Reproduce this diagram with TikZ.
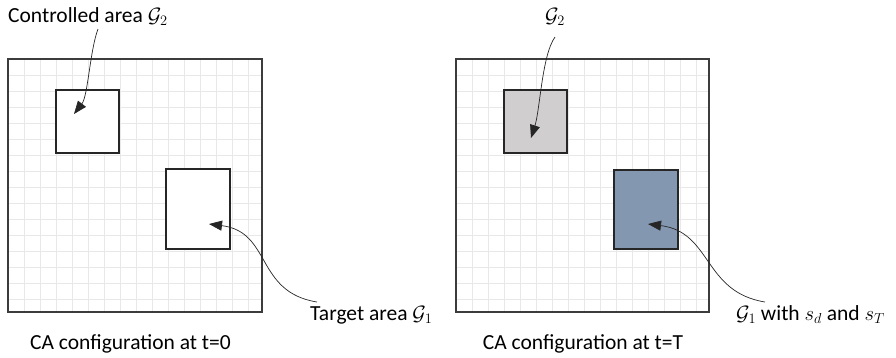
\documentclass[tikz,border=0pt]{standalone}
\usepackage{fontspec}
\setmainfont{Carlito}
\usetikzlibrary{arrows.meta, positioning}
\definecolor{gridgray}{RGB}{232,232,232}
\definecolor{framegray}{RGB}{60,60,60}
\definecolor{reachgray}{RGB}{208,206,206}
\definecolor{targetblue}{RGB}{132,151,176}
\tikzset{
  cagrid/.style={draw=gridgray, line width=0.7pt},
  caframe/.style={draw=framegray, line width=1.4pt, minimum height=253pt, inner sep=0pt},
  area/.style={draw=black!85, line width=1.4pt, fill=white, inner sep=0pt},
  arrow/.style={-{Triangle[length=13pt, width=10pt]}, line width=0.7pt, black!85},
  lbl/.style={font=\fontsize{21.5}{25}\selectfont, inner sep=0pt},
}
\begin{document}
\begin{tikzpicture}[x=1pt, y=1pt]
\useasboundingbox (0,0) rectangle (896,-357);

% --- Configuration at t=0 ---
\begin{scope}[shift={(8,-59)}]
  \draw[cagrid, step=16pt] (0,0) grid (254,-253);
\end{scope}
\node[caframe, minimum width=254pt] (frameA) at (135,-185.5) {};
\node[area, minimum width=63pt, minimum height=63pt] (ctrlA) at (87.5,-121.5) {};
\node[area, minimum width=64pt, minimum height=80pt] (targA) at (198,-209) {};

\node[lbl, anchor=base west] (ctrlAlbl) at (8,-22) {Controlled area $\mathcal{G}_2$};
\node[lbl, anchor=base west] (targAlbl) at (310,-320) {Target area $\mathcal{G}_1$};
\node[lbl, anchor=base] (capA) at (130.5,-349) {CA configuration at t=0};

\coordinate (ctrlAtip) at (74,-114);
\coordinate (targAtip) at (209,-224);
\draw[arrow] (98,-29) coordinate (ctrlAfrom) .. controls (90,-50) and (88,-96) .. (ctrlAtip);
\draw[arrow] (317,-302) coordinate (targAfrom) .. controls (255,-292) and (272,-232) .. (targAtip);

% --- Configuration at t=T ---
\begin{scope}[shift={(456,-59)}]
  \draw[cagrid, step=16pt] (0,0) grid (253,-253);
\end{scope}
\node[caframe, minimum width=253pt] (frameB) at (582.5,-185.5) {};
\node[area, fill=reachgray, minimum width=63pt, minimum height=63pt] (ctrlB) at (535.5,-121.5) {};
\node[area, fill=targetblue, minimum width=64pt, minimum height=79pt] (targB) at (646,-209.5) {};

\node[lbl, anchor=base] (ctrlBlbl) at (555,-22) {$\mathcal{G}_2$};
\node[lbl, anchor=base west] (targBlbl) at (736,-320) {$\mathcal{G}_1$ with $s_d$ and $s_T$};
\node[lbl, anchor=base] (capB) at (583,-349) {CA configuration at t=T};

\coordinate (ctrlBtip) at (531,-138);
\coordinate (targBtip) at (648,-224);
\draw[arrow] (555,-37) coordinate (ctrlBfrom) .. controls (542,-55) and (540,-110) .. (ctrlBtip);
\draw[arrow] (765,-302) coordinate (targBfrom) .. controls (703,-292) and (712,-232) .. (targBtip);

\end{tikzpicture}
\end{document}
